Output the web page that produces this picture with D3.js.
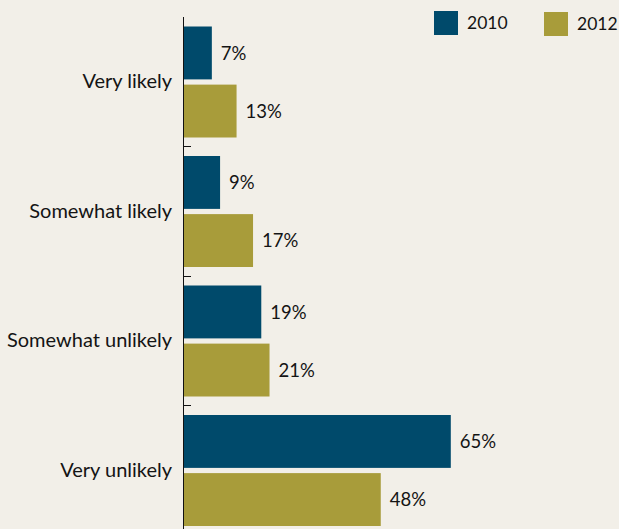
<!DOCTYPE html>
<html>
<head>
<meta charset="utf-8">
<script src="https://cdn.jsdelivr.net/npm/d3@7"></script>
<style>
  html, body { margin: 0; padding: 0; background: #f2efe8; }
  svg { display: block; }
  text { font-family: Lato, "Noto Sans", sans-serif; fill: #141414; }
</style>
</head>
<body>
<svg id="chart" width="619" height="529"></svg>
<script>
// Survey responses, share of respondents (%)
const categories = ["Very likely", "Somewhat likely", "Somewhat unlikely", "Very unlikely"];
const years = ["2010", "2012"];
const values2010 = [7, 9, 19, 65];
const values2012 = [13, 17, 21, 48];
const colors = ["#004a6b", "#a89c3a"];

const svg = d3.select("#chart");
const W = 619, H = 529;
svg.append("rect").attr("width", W).attr("height", H).attr("fill", "#f2efe8");

const x = d3.scaleLinear().domain([0, 100]).range([183, 595]);
const y = d3.scaleBand().domain(categories).range([16.5, 534.5]);
const ySub = d3.scaleBand().domain(years).range([10, 121]).paddingInner(0.09);

const rows = categories.map((c, i) => ({ cat: c, vals: [values2010[i], values2012[i]] }));

const groups = svg.append("g").selectAll("g.cat").data(rows).join("g")
  .attr("class", "cat")
  .attr("transform", d => `translate(0,${y(d.cat)})`);

groups.selectAll("rect").data(d => d.vals.map((v, j) => ({ v, year: years[j], j })))
  .join("rect")
  .attr("x", x(0))
  .attr("y", d => ySub(d.year))
  .attr("width", d => x(d.v) - x(0))
  .attr("height", ySub.bandwidth())
  .attr("fill", d => colors[d.j]);

groups.selectAll("text.val").data(d => d.vals.map((v, j) => ({ v, year: years[j] })))
  .join("text")
  .attr("class", "val")
  .attr("x", d => x(d.v) + 9)
  .attr("y", d => ySub(d.year) + ySub.bandwidth() / 2)
  .attr("dy", "0.36em")
  .attr("font-size", 18.5)
  .text(d => d.v + "%");

// Category axis on the left
const axis = d3.axisLeft(y).tickSize(0).tickPadding(11);
const axisG = svg.append("g").attr("transform", `translate(${x(0)},0)`).call(axis);
axisG.select(".domain").remove();
axisG.selectAll("text")
  .attr("font-size", 20)
  .attr("font-family", "Lato, \"Noto Sans\", sans-serif")
  .attr("fill", "#141414")
  .attr("dy", "0.36em");

svg.append("line")
  .attr("x1", x(0) + 0.5).attr("x2", x(0) + 0.5)
  .attr("y1", 17).attr("y2", H)
  .attr("stroke", "#111").attr("stroke-width", 1);

// Boundary ticks between categories
svg.selectAll("line.sep").data(categories.slice(1))
  .join("line")
  .attr("class", "sep")
  .attr("x1", x(0)).attr("x2", x(0) + 8)
  .attr("y1", d => Math.round(y(d)) + 0.5).attr("y2", d => Math.round(y(d)) + 0.5)
  .attr("stroke", "#111").attr("stroke-width", 1);

// Legend
const legend = svg.append("g");
const legendX = [434, 544];
years.forEach((yr, i) => {
  legend.append("rect")
    .attr("x", legendX[i]).attr("y", 11 + i)
    .attr("width", 24).attr("height", 24)
    .attr("fill", colors[i]);
  legend.append("text")
    .attr("x", legendX[i] + 33).attr("y", 23 + i)
    .attr("dy", "0.36em")
    .attr("font-size", 17.5)
    .text(yr);
});
</script>
</body>
</html>
